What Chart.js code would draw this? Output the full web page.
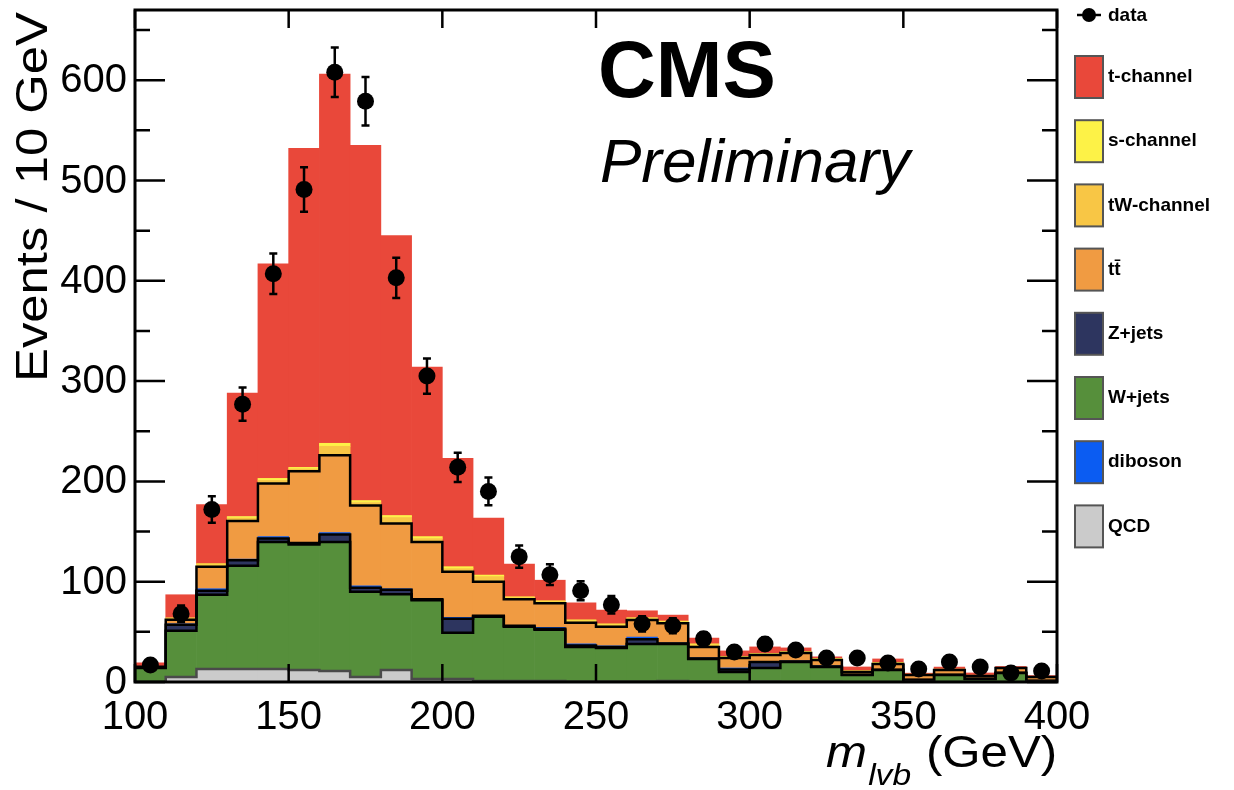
<!DOCTYPE html>
<html>
<head>
<meta charset="utf-8">
<title>m_lvb</title>
<script src="https://cdn.jsdelivr.net/npm/chart.js@4.4.1/dist/chart.umd.min.js"></script>
<style>
  html, body { margin: 0; padding: 0; background: #fff; }
  canvas { display: block; }
</style>
</head>
<body>
<canvas id="mlvb-chart" width="1234" height="790"></canvas>
<script>
// 10 GeV bins, 100 - 400 GeV
const binEdges = [100, 110, 120, 130, 140, 150, 160, 170, 180, 190, 200, 210, 220, 230, 240, 250,
    260, 270, 280, 290, 300, 310, 320, 330, 340, 350, 360, 370, 380, 390, 400];
const binCenters = [105, 115, 125, 135, 145, 155, 165, 175, 185, 195, 205, 215, 225, 235, 245,
    255, 265, 275, 285, 295, 305, 315, 325, 335, 345, 355, 365, 375, 385, 395];

// MC samples, events per bin (stack order bottom -> top)
const qcd = [0, 5, 13, 13, 13, 12, 11, 5, 12, 3, 3, 1, 1, 1, 0.5, 0.5, 0.5, 1, 0.5, 0.5,
    0.5, 0.3, 0.3, 0, 0, 0, 0, 0, 0, 0];
const wJets = [14, 46, 74, 103, 126.5, 125, 128.5, 85, 75.5, 78.5, 46, 64, 54, 51, 34.5, 33.3,
    37.3, 36.8, 22.5, 9.5, 13.5, 19.7, 14.7, 7, 12, 2, 7, 3, 9, 1];
const zJets = [0.5, 6, 4, 5.5, 3.5, 1.5, 7.5, 4, 4.5, 1, 14, 1, 1, 1, 1.5, 1.2, 4.7, 0.7, 0.5,
    2.5, 6, 0.5, 0.5, 0.3, 0.3, 0.2, 0.2, 0.2, 0.2, 0.2];
const diboson = [0.3, 1, 2, 1, 2, 0.5, 2, 2, 1, 0.5, 1.5, 0.5, 0.5, 1.5, 1.5, 1, 2.3, 0.5, 0.5,
    1.5, 0.5, 0.5, 0.5, 0.2, 0.2, 0.2, 0.2, 0.2, 0.2, 0.2];
const ttbar = [0.5, 4, 22, 38, 53, 71, 77, 80, 65, 56.5, 45.5, 33.5, 26, 24, 21, 19, 17, 19.5,
    11, 10, 6.5, 8, 6, 2.5, 5.5, 4.6, 4.6, 2.6, 4.6, 3.6];
const tWChannel = [0, 1.5, 2, 3, 3, 2.5, 9, 3, 6, 3.5, 3, 5, 1.5, 1.5, 2, 2, 1.3, 1.3, 2, 1,
    1, 1, 1, 1, 1, 0.5, 0.5, 0.5, 0.3, 0.3];
const sChannel = [0.2, 0.5, 1, 1.5, 2, 1.5, 3, 2, 2, 2, 2, 1.5, 1, 1, 1, 1, 1, 1, 1, 0.5,
    0.5, 0.5, 0.5, 0.3, 0.5, 0.3, 0.3, 0.3, 0.2, 0.2];
const tChannel = [3.5, 23, 59, 123, 214, 318, 368, 354, 279, 169, 108, 57, 32.5, 20.5, 17,
    13.6, 6.9, 5.9, 5.8, 5.5, 6.5, 3.5, 1.5, 3.7, 3.5, 1, 2.2, 2.2, 1, 1];

// data
const dataCounts = [17, 68, 172, 277, 407, 491, 608, 579, 403, 305, 214, 190, 125, 107, 91, 77,
    58, 56, 43, 30, 38, 32, 24, 24, 19, 13, 20, 15, 9, 11];
const dataErrors = [4.1, 8.2, 13.1, 16.6, 20.2, 22.2, 24.7, 24.1, 20.1, 17.5, 14.6, 13.8, 11.2,
    10.3, 9.5, 8.8, 7.6, 7.5, 6.6, 5.5, 6.2, 5.7, 4.9, 4.9, 4.4, 3.6, 4.5, 3.9, 3, 3.3];

const xTickLabels = [100, 150, 200, 250, 300, 350, 400];
const yTickLabels = [0, 100, 200, 300, 400, 500, 600];
const yMinorTicks = [50, 150, 250, 350, 450, 550, 650];
const legendLabels = ['t-channel', 's-channel', 'tW-channel', 'tt\u0304', 'Z+jets', 'W+jets', 'diboson', 'QCD'];

const FONT = "'Liberation Sans', Arial, Helvetica, sans-serif";

const samples = [
    {label: 'QCD', values: qcd, color: '#cbcbcb', line: '#4a4a4a'},
    {label: 'W+jets', values: wJets, color: '#568f3b', line: '#000'},
    {label: 'Z+jets', values: zJets, color: '#2d355f', line: '#000'},
    {label: 'diboson', values: diboson, color: '#0b5cf2', line: null},
    {label: 'tt\u0304', values: ttbar, color: '#f09b42', line: '#000'},
    {label: 'tW-channel', values: tWChannel, color: '#f8c645', line: null},
    {label: 's-channel', values: sChannel, color: '#fdf247', line: null},
    {label: 't-channel', values: tChannel, color: '#e9483a', line: null}
];

let datasets = [];
let running = binCenters.map(() => 0);
samples.forEach(function(s, k) {
    datasets.push({
        type: 'bar',
        label: s.label,
        data: binCenters.map((x, i) => ({x: x, y: s.values[i]})),
        backgroundColor: s.color,
        borderWidth: 0,
        barPercentage: 1,
        categoryPercentage: 1,
        stack: 'mc',
        yAxisID: 'y',
        order: 10 + k
    });
    running = running.map((v, i) => v + s.values[i]);
    if (s.line) {
        let pts = binEdges.slice(0, -1).map((x, i) => ({x: x, y: running[i]}));
        pts.push({x: binEdges[binEdges.length - 1], y: running[running.length - 1]});
        datasets.push({
            type: 'line',
            label: s.label + ' outline',
            data: pts,
            stepped: true,
            borderColor: s.line,
            borderWidth: 2.5,
            pointRadius: 0,
            fill: false,
            yAxisID: 'yLine',
            order: 5
        });
    }
});

datasets.push({
    type: 'line',
    label: 'data',
    data: binCenters.map((x, i) => ({x: x, y: dataCounts[i]})),
    showLine: false,
    pointRadius: 8.5,
    pointBackgroundColor: '#000',
    pointBorderWidth: 0,
    yAxisID: 'yLine',
    order: 1
});

// error bars on the data points
const errorBars = {
    id: 'errorBars',
    afterDatasetsDraw: function(chart) {
        const ctx = chart.ctx;
        const xs = chart.scales.x, ys = chart.scales.yLine;
        ctx.save();
        ctx.strokeStyle = '#000';
        ctx.lineWidth = 2.5;
        binCenters.forEach(function(x, i) {
            const px = xs.getPixelForValue(x);
            const lo = ys.getPixelForValue(dataCounts[i] - dataErrors[i]);
            const hi = ys.getPixelForValue(dataCounts[i] + dataErrors[i]);
            ctx.beginPath();
            ctx.moveTo(px, lo); ctx.lineTo(px, hi);
            ctx.moveTo(px - 4, lo); ctx.lineTo(px + 4, lo);
            ctx.moveTo(px - 4, hi); ctx.lineTo(px + 4, hi);
            ctx.stroke();
        });
        ctx.restore();
    }
};

// ROOT style frame, inward ticks, labels, legend, CMS text
const rootFrame = {
    id: 'rootFrame',
    afterDraw: function(chart) {
        const ctx = chart.ctx;
        const a = chart.chartArea;
        const xs = chart.scales.x, ys = chart.scales.y;
        ctx.save();
        ctx.strokeStyle = '#000';
        ctx.lineWidth = 3;
        ctx.strokeRect(a.left, a.top, a.right - a.left, a.bottom - a.top);

        ctx.lineWidth = 2.5;
        ctx.beginPath();
        yTickLabels.forEach(function(v) {
            const py = ys.getPixelForValue(v);
            ctx.moveTo(a.left, py); ctx.lineTo(a.left + 30, py);
            ctx.moveTo(a.right, py); ctx.lineTo(a.right - 30, py);
        });
        yMinorTicks.forEach(function(v) {
            const py = ys.getPixelForValue(v);
            ctx.moveTo(a.left, py); ctx.lineTo(a.left + 15, py);
            ctx.moveTo(a.right, py); ctx.lineTo(a.right - 15, py);
        });
        xTickLabels.forEach(function(v) {
            const px = xs.getPixelForValue(v);
            ctx.moveTo(px, a.bottom); ctx.lineTo(px, a.bottom - 18);
            ctx.moveTo(px, a.top); ctx.lineTo(px, a.top + 18);
        });
        ctx.stroke();

        // tick labels
        ctx.fillStyle = '#000';
        ctx.font = '40px ' + FONT;
        ctx.textAlign = 'right';
        ctx.textBaseline = 'middle';
        yTickLabels.forEach(function(v) {
            ctx.fillText(String(v), a.left - 8, ys.getPixelForValue(v) + 1);
        });
        ctx.textAlign = 'center';
        ctx.textBaseline = 'top';
        xTickLabels.forEach(function(v) {
            ctx.fillText(String(v), xs.getPixelForValue(v), a.bottom + 16);
        });

        // y title, aligned to top of axis
        ctx.save();
        ctx.font = '44px ' + FONT;
        const yTitle = 'Events / 10 GeV';
        const yw = ctx.measureText(yTitle).width;
        ctx.translate(47, 382);
        ctx.rotate(-Math.PI / 2);
        ctx.scale(370 / yw, 1);
        ctx.textAlign = 'left';
        ctx.textBaseline = 'alphabetic';
        ctx.fillText(yTitle, 0, 0);
        ctx.restore();

        // x title m_lvb (GeV), aligned to right
        ctx.save();
        ctx.textAlign = 'left';
        ctx.textBaseline = 'alphabetic';
        ctx.font = 'italic 44px ' + FONT;
        const wm = ctx.measureText('m').width;
        ctx.font = 'italic 30px ' + FONT;
        const wsub = ctx.measureText('lvb').width;
        ctx.font = '44px ' + FONT;
        const wg = ctx.measureText(' (GeV)').width;
        const total = wm + wsub + wg;
        ctx.translate(826, 767);
        ctx.scale(229 / total, 1);
        ctx.font = 'italic 44px ' + FONT;
        ctx.fillText('m', 0, 0);
        ctx.font = 'italic 30px ' + FONT;
        ctx.fillText('lvb', wm + 1, 18);
        ctx.font = '44px ' + FONT;
        ctx.fillText(' (GeV)', wm + wsub + 2, 0);
        ctx.restore();

        // CMS Preliminary
        ctx.textAlign = 'left';
        ctx.textBaseline = 'alphabetic';
        ctx.font = 'bold 80px ' + FONT;
        ctx.fillText('CMS', 598, 97);
        ctx.font = 'italic 62px ' + FONT;
        ctx.fillText('Preliminary', 600, 182);

        // legend
        ctx.textBaseline = 'middle';
        ctx.font = 'bold 19px ' + FONT;
        ctx.lineWidth = 2.5;
        ctx.beginPath();
        ctx.moveTo(1077, 15); ctx.lineTo(1101, 15);
        ctx.stroke();
        ctx.beginPath();
        ctx.arc(1089, 15, 7, 0, Math.PI * 2);
        ctx.fill();
        ctx.fillText('data', 1108, 16);
        legendLabels.forEach(function(name, k) {
            const s = samples.find(e => e.label === name);
            const cy = 77 + k * 64.2;
            ctx.fillStyle = s.color;
            ctx.fillRect(1075, cy - 21, 28, 42);
            ctx.strokeStyle = '#555';
            ctx.lineWidth = 2;
            ctx.strokeRect(1075, cy - 21, 28, 42);
            ctx.fillStyle = '#000';
            ctx.fillText(name, 1108, cy);
        });
        ctx.restore();
    }
};

const mlvbChart = new Chart(
    document.getElementById('mlvb-chart').getContext('2d'),
    {
        type: 'bar',
        data: {datasets: datasets},
        options: {
            responsive: false,
            animation: false,
            devicePixelRatio: 1,
            layout: {padding: {left: 135, right: 177, top: 10, bottom: 108}},
            plugins: {legend: {display: false}, tooltip: {enabled: false}},
            scales: {
                x: {type: 'linear', min: 100, max: 400, offset: false, stacked: true, display: false},
                y: {type: 'linear', min: 0, max: 670, stacked: true, display: false},
                yLine: {type: 'linear', min: 0, max: 670, display: false}
            }
        },
        plugins: [errorBars, rootFrame]
    }
);
</script>
</body>
</html>
